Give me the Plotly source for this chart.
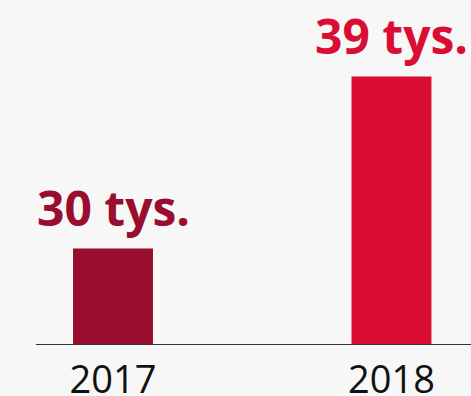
import plotly.graph_objects as go

years = ["2017", "2018"]
values = [30, 39]
labels = ["30 tys.", "39 tys."]
colors = ["#990d2e", "#da0e33"]

xpos = list(range(len(years)))

fig = go.Figure()
fig.add_trace(go.Bar(x=xpos, y=values, marker=dict(color=colors, line=dict(width=0)),
                     width=0.287, hoverinfo="skip"))

for xi, v, lab, c in zip(xpos, values, labels, colors):
    fig.add_annotation(x=xi, y=v, text="<b>" + lab + "</b>", showarrow=False,
                       yanchor="bottom", xanchor="center", yshift=7,
                       font=dict(family="Open Sans", size=48, color=c))

fig.update_layout(
    width=471, height=396,
    margin=dict(l=36, r=0, t=0, b=52),
    paper_bgcolor="#f7f7f7", plot_bgcolor="#f7f7f7",
    showlegend=False,
    font=dict(family="Open Sans"),
    xaxis=dict(range=[-0.2765, 1.2855], tickvals=xpos, ticktext=years,
               showgrid=False, zeroline=False, showline=True, linecolor="#333333", linewidth=1,
               ticks="", tickfont=dict(family="Open Sans", size=38, color="#111111"),
               ticklabelstandoff=2, fixedrange=True, automargin=False),
    yaxis=dict(range=[25, 43.01], visible=False, fixedrange=True, automargin=False),
)

fig.write_html("out.html")
